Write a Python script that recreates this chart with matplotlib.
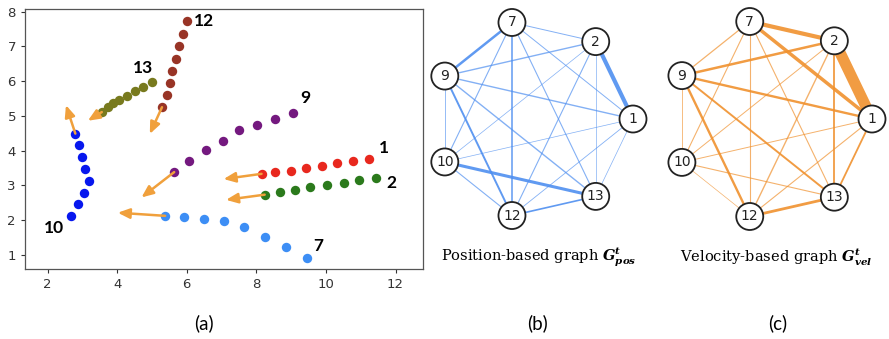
import numpy as np
import matplotlib
matplotlib.use("Agg")
import matplotlib.pyplot as plt
from matplotlib.patches import Circle

# ---------------- data ----------------
traj_ids = [1, 2, 7, 9, 10, 12, 13]
traj_x = {
    1: [8.15, 8.55, 8.99, 9.44, 9.89, 10.33, 10.79, 11.24],
    2: [8.24, 8.69, 9.12, 9.55, 10.03, 10.51, 10.96, 11.44],
    7: [5.38, 5.93, 6.49, 7.08, 7.66, 8.24, 8.85, 9.45],
    9: [5.64, 6.07, 6.56, 7.04, 7.51, 8.02, 8.55, 9.06],
    10: [2.80, 2.90, 3.00, 3.07, 3.18, 3.04, 2.87, 2.68],
    12: [5.29, 5.43, 5.52, 5.58, 5.69, 5.79, 5.89, 6.01],
    13: [3.56, 3.73, 3.89, 4.06, 4.28, 4.52, 4.74, 4.99],
}
traj_y = {
    1: [3.33, 3.39, 3.42, 3.49, 3.57, 3.63, 3.70, 3.77],
    2: [2.73, 2.80, 2.87, 2.96, 3.01, 3.08, 3.14, 3.20],
    7: [2.12, 2.08, 2.03, 1.97, 1.80, 1.52, 1.21, 0.91],
    9: [3.38, 3.70, 4.01, 4.29, 4.59, 4.74, 4.90, 5.07],
    10: [4.49, 4.15, 3.81, 3.46, 3.11, 2.77, 2.45, 2.11],
    12: [5.25, 5.59, 5.94, 6.28, 6.63, 7.01, 7.35, 7.74],
    13: [5.11, 5.26, 5.36, 5.46, 5.58, 5.71, 5.83, 5.97],
}
traj_colors = {1: "#e8281e", 2: "#2b7a1c", 7: "#3d8ef5", 9: "#74197f",
               10: "#0717ee", 12: "#983426", 13: "#787a1e"}
# velocity arrow tips (tail is first point of each trajectory)
arrow_tip_x = {1: 7.06, 2: 7.13, 7: 4.02, 9: 4.70, 10: 2.53, 12: 4.94, 13: 3.16}
arrow_tip_y = {1: 3.18, 2: 2.58, 7: 2.21, 9: 2.65, 10: 5.31, 12: 4.48, 13: 4.86}
label_x = {1: 11.68, 2: 11.87, 7: 9.77, 9: 9.42, 10: 2.19, 12: 6.50, 13: 4.75}
label_y = {1: 4.07, 2: 3.06, 7: 1.25, 9: 5.52, 10: 1.78, 12: 7.74, 13: 6.37}
x_ticks = [2, 4, 6, 8, 10, 12]
y_ticks = [1, 2, 3, 4, 5, 6, 7, 8]

# graph: node order around the circle (counter-clockwise from angle 0)
node_order = [1, 2, 7, 9, 10, 12, 13]
edges = [(2, 1), (7, 9), (10, 13), (7, 2), (9, 2), (9, 1), (9, 10), (9, 13),
         (9, 12), (7, 10), (7, 12), (7, 13), (7, 1), (2, 10), (2, 12), (2, 13),
         (1, 10), (1, 12), (1, 13), (10, 12), (12, 13)]
pos_weights = [3.0, 1.8, 2.2, 0.7, 1.0, 1.0, 0.6, 1.0,
               1.4, 0.8, 1.1, 0.8, 0.7, 0.5, 0.8, 0.5,
               0.5, 0.6, 0.5, 0.8, 1.2]
vel_weights = [8.0, 0.9, 0.8, 3.0, 1.8, 1.7, 0.6, 1.4,
               1.7, 0.8, 0.8, 0.8, 2.5, 0.7, 1.0, 1.3,
               0.7, 0.8, 1.3, 0.5, 2.0]

# ---------------- figure ----------------
W, H = 889, 339
fig = plt.figure(figsize=(W / 100, H / 100), dpi=100)

def px_axes(x0, y0, x1, y1):
    return fig.add_axes([x0 / W, 1 - y1 / H, (x1 - x0) / W, (y1 - y0) / H])

# ---- panel (a)
ax = px_axes(25, 9, 423, 269)
for k in traj_ids:
    ax.scatter(traj_x[k], traj_y[k], s=46, color=traj_colors[k], zorder=3,
               linewidths=0)
    ax.annotate("", xy=(arrow_tip_x[k], arrow_tip_y[k]),
                xytext=(traj_x[k][0], traj_y[k][0]),
                arrowprops=dict(arrowstyle="-|>,head_length=0.7,head_width=0.3",
                                color="#f0a03c", lw=1.8, shrinkA=0, shrinkB=0),
                zorder=4)
    ax.text(label_x[k], label_y[k], str(k), fontsize=12.5, fontweight="bold",
            family=["Lato", "DejaVu Sans"], ha="center", va="center",
            color="black")
ax.set_xlim(1.353, 12.79)
ax.set_ylim(0.588, 8.08)
ax.set_xticks(x_ticks)
ax.set_yticks(y_ticks)
ax.tick_params(labelsize=9.5, colors="#333333", length=3, width=0.8)
for lab in ax.get_xticklabels() + ax.get_yticklabels():
    lab.set_family(["Liberation Sans Narrow", "DejaVu Sans"])
for sp in ax.spines.values():
    sp.set_color("#555555")
    sp.set_linewidth(0.9)

# ---- graphs
def draw_graph(cx, cy, r_px, weights, color):
    half = 135
    g = px_axes(cx - half, cy - half, cx + half, cy + half)
    lim = half / r_px
    g.set_xlim(-lim, lim)
    g.set_ylim(-lim, lim)
    g.axis("off")
    ang = {n: 2 * np.pi * i / len(node_order) for i, n in enumerate(node_order)}
    P = {n: (np.cos(a), np.sin(a)) for n, a in ang.items()}
    for (a, b), w in zip(edges, weights):
        g.plot([P[a][0], P[b][0]], [P[a][1], P[b][1]], color=color, lw=w,
               alpha=0.9 if w > 1.0 else 0.7, solid_capstyle="butt", zorder=1)
    for n in node_order:
        g.add_patch(Circle(P[n], 13.5 / r_px, facecolor="white",
                           edgecolor="#222222", lw=1.3, zorder=2))
        g.text(P[n][0], P[n][1], str(n), fontsize=10, ha="center",
               va="center", color="#222222", zorder=3)
    return g

draw_graph(534, 119, 99, pos_weights, "#4f8ff0")
draw_graph(772, 119, 100, vel_weights, "#f0912e")

plt.rcParams["mathtext.fontset"] = "dejavuserif"
fig.text(539 / W, 1 - 257 / H,
         r"Position-based graph $\mathbfit{G}_{\mathbfit{pos}}^{\mathbfit{t}}$",
         fontsize=10.5, family=["DejaVu Serif"], ha="center", va="center")
fig.text(776 / W, 1 - 257 / H,
         r"Velocity-based graph $\mathbfit{G}_{\mathbfit{vel}}^{\mathbfit{t}}$",
         fontsize=10.5, family=["DejaVu Serif"], ha="center", va="center")

for lbl, x in [("(a)", 204), ("(b)", 538), ("(c)", 778)]:
    fig.text(x / W, 1 - 323 / H, lbl, fontsize=13.5,
             family=["Lato", "DejaVu Sans"], ha="center", va="center")

fig.savefig("out.png", dpi=100)
